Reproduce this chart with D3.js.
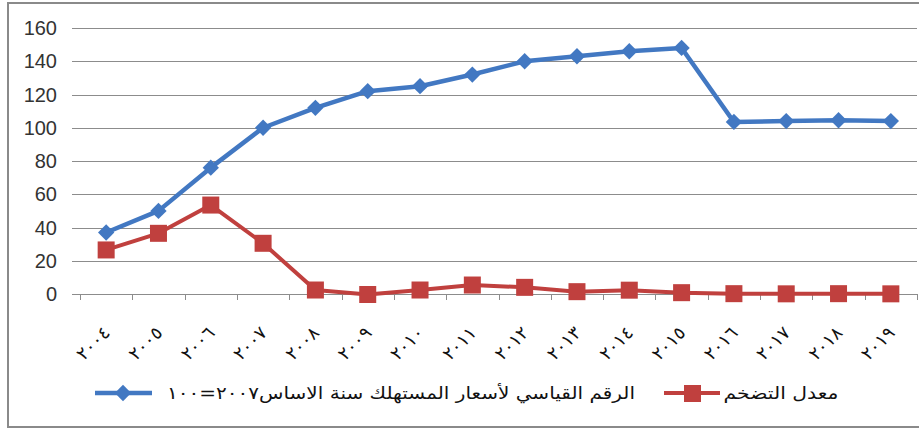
<!DOCTYPE html>
<html lang="ar">
  <head>
    <meta charset="UTF-8" />
    <title>Inflation chart</title>
    <style>
      body { margin: 0; background: #fff; }
      svg { display: block; }
      .grid line { stroke: #8c8c8c; stroke-width: 1.5; shape-rendering: crispEdges; }
      .ylab text { font-family: "Liberation Sans", Arial, sans-serif; font-size: 20px; fill: #333; }
      .xlab text { font-family: "DejaVu Sans", sans-serif; font-size: 18px; fill: #111; }
      .legend text { font-family: "DejaVu Sans", sans-serif; font-size: 17px; fill: #111; }
    </style>
    <script src="https://cdn.jsdelivr.net/npm/d3@7"></script>
  </head>
  <body>
    <svg width="919" height="430"></svg>
    <script>
      var years = ['2004', '2005', '2006', '2007', '2008', '2009', '2010', '2011',
                   '2012', '2013', '2014', '2015', '2016', '2017', '2018', '2019']
      var yearLabels = ['٢٠٠٤', '٢٠٠٥', '٢٠٠٦', '٢٠٠٧', '٢٠٠٨', '٢٠٠٩', '٢٠١٠', '٢٠١١',
                        '٢٠١٢', '٢٠١٣', '٢٠١٤', '٢٠١٥', '٢٠١٦', '٢٠١٧', '٢٠١٨', '٢٠١٩']
      var cpi = [37, 50, 76, 100, 112, 122, 125, 132, 140, 143, 146, 148, 103.5, 104, 104.5, 104]
      var inflation = [26.5, 36.5, 53.5, 30.5, 2.4, -0.3, 2.4, 5.4, 4, 1.4, 2.3, 0.8, 0.2, 0.1, 0.2, 0.1]
      var yTicks = [0, 20, 40, 60, 80, 100, 120, 140, 160]
      var cpiName = 'الرقم القياسي لأسعار المستهلك سنة الاساس٢٠٠٧=١٠٠'
      var inflName = 'معدل التضخم'

      var blue = '#4278c2'
      var red = '#c0403e'

      var svg = d3.select('svg')

      // frame
      svg.append('rect')
        .attr('x', 8).attr('y', 3)
        .attr('width', 920).attr('height', 424)
        .attr('fill', 'none')
        .attr('stroke', '#8a8a8a')
        .attr('stroke-width', 2)

      var x = d3.scaleBand().domain(years).range([80, 917])
      var y = d3.scaleLinear().domain([0, 160]).range([294, 28])
      var cx = function(d, i) { return x(years[i]) + x.bandwidth() / 2 }

      // gridlines
      svg.append('g').attr('class', 'grid')
        .selectAll('line')
        .data(yTicks)
        .enter()
        .append('line')
        .attr('x1', 72).attr('x2', 917)
        .attr('y1', function(d) { return Math.round(y(d)) + 0.5 })
        .attr('y2', function(d) { return Math.round(y(d)) + 0.5 })

      // y labels
      svg.append('g').attr('class', 'ylab')
        .selectAll('text')
        .data(yTicks)
        .enter()
        .append('text')
        .attr('x', 57)
        .attr('y', function(d) { return y(d) })
        .attr('dy', '0.36em')
        .attr('text-anchor', 'end')
        .text(function(d) { return d })

      // x axis ticks at category boundaries
      var bounds = years.map(function(d) { return x(d) }).concat([x.range()[1]])
      svg.append('g').attr('class', 'grid')
        .selectAll('line')
        .data(bounds)
        .enter()
        .append('line')
        .attr('x1', function(d) { return Math.round(d) + 0.5 })
        .attr('x2', function(d) { return Math.round(d) + 0.5 })
        .attr('y1', 294).attr('y2', 300)

      // x labels, rotated
      svg.append('g').attr('class', 'xlab')
        .selectAll('text')
        .data(yearLabels)
        .enter()
        .append('text')
        .attr('text-anchor', 'end')
        .attr('transform', function(d, i) {
          return 'translate(' + (cx(d, i) + 5) + ',' + 334 + ') rotate(-45)'
        })
        .text(function(d) { return d })

      var line = d3.line()
        .x(cx)
        .y(function(d) { return y(d) })

      // CPI series
      svg.append('path')
        .datum(cpi)
        .attr('d', line)
        .attr('fill', 'none')
        .attr('stroke', blue)
        .attr('stroke-width', 4.5)
        .attr('stroke-linejoin', 'round')

      var diamond = d3.symbol().type(d3.symbolDiamond2).size(170)
      svg.append('g')
        .selectAll('path')
        .data(cpi)
        .enter()
        .append('path')
        .attr('d', diamond)
        .attr('transform', function(d, i) { return 'translate(' + cx(d, i) + ',' + y(d) + ')' })
        .attr('fill', blue)

      // inflation series
      svg.append('path')
        .datum(inflation)
        .attr('d', line)
        .attr('fill', 'none')
        .attr('stroke', red)
        .attr('stroke-width', 4)
        .attr('stroke-linejoin', 'round')

      var sq = 17
      svg.append('g')
        .selectAll('rect')
        .data(inflation)
        .enter()
        .append('rect')
        .attr('x', function(d, i) { return cx(d, i) - sq / 2 })
        .attr('y', function(d) { return y(d) - sq / 2 })
        .attr('width', sq).attr('height', sq)
        .attr('fill', red)

      // legend
      var legend = svg.append('g').attr('class', 'legend')
      var ly = 393

      legend.append('line')
        .attr('x1', 95).attr('x2', 152)
        .attr('y1', ly).attr('y2', ly)
        .attr('stroke', blue).attr('stroke-width', 4.5)
      legend.append('path')
        .attr('d', diamond)
        .attr('transform', 'translate(123,' + ly + ')')
        .attr('fill', blue)
      legend.append('text')
        .attr('x', 401).attr('y', ly)
        .attr('dy', '0.35em')
        .attr('text-anchor', 'middle')
        .attr('direction', 'rtl')
        .attr('textLength', 468)
        .attr('lengthAdjust', 'spacingAndGlyphs')
        .text(cpiName)

      legend.append('line')
        .attr('x1', 664).attr('x2', 720)
        .attr('y1', ly).attr('y2', ly)
        .attr('stroke', red).attr('stroke-width', 4)
      legend.append('rect')
        .attr('x', 684).attr('y', ly - 8)
        .attr('width', sq).attr('height', sq)
        .attr('fill', red)
      legend.append('text')
        .attr('x', 781).attr('y', ly)
        .attr('dy', '0.35em')
        .attr('text-anchor', 'middle')
        .attr('direction', 'rtl')
        .attr('textLength', 115)
        .attr('lengthAdjust', 'spacingAndGlyphs')
        .text(inflName)
    </script>
  </body>
</html>
